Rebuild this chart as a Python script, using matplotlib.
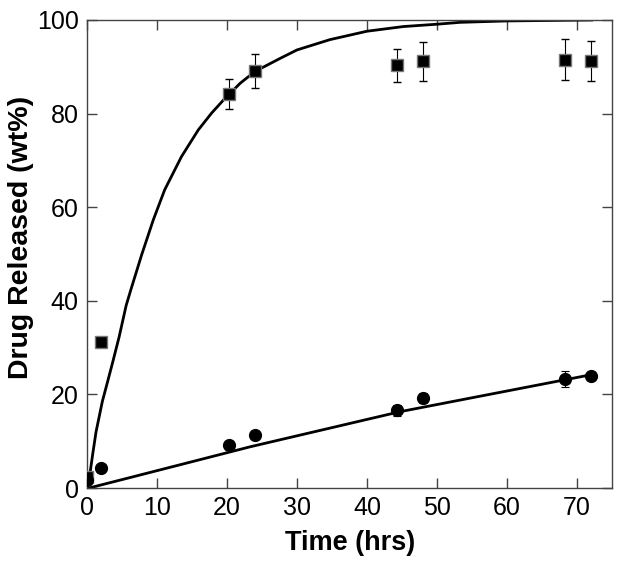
import matplotlib.pyplot as plt

plt.rcParams["font.family"] = ["Liberation Sans", "DejaVu Sans"]

# Measured release points (hrs, wt%)
time = [0, 2, 20.3, 24, 44.3, 48, 68.3, 72]
fast_release = [2.4, 31.3, 84.1, 89.1, 90.3, 91.2, 91.5, 91.3]
fast_err = [0.5, 1.0, 3.2, 3.7, 3.5, 4.2, 4.4, 4.3]
slow_release = [1.7, 4.2, 9.2, 11.3, 16.6, 19.2, 23.3, 24.0]
slow_err = [0.3, 0.4, 0.5, 0.5, 1.2, 1.1, 1.7, 0.6]

# Model fits
fit_fast_t = [0, 0.33, 0.8, 1.3, 2.2, 3.0, 3.7, 4.6, 5.6, 6.3, 7.81, 9.48, 11.1,
              13.5, 15.9, 17.8, 19.5, 21.9, 24, 27.6, 30, 34.7, 40, 45.2, 50,
              53.3, 60, 66, 72.1]
fit_fast_v = [0, 2.0, 7.0, 12.0, 18.5, 23.0, 27.0, 32.3, 39.0, 42.5, 49.8, 57.3,
              63.7, 70.8, 76.5, 80.1, 82.9, 86.5, 89.0, 91.8, 93.6, 95.8, 97.6,
              98.6, 99.1, 99.5, 99.8, 99.9, 100]
fit_slow_t = [0.3, 6.6, 23.3, 44.7, 72]
fit_slow_v = [0, 2.4, 8.8, 16.3, 24.2]

fig = plt.figure(figsize=(6.21, 5.78), dpi=100)
ax = fig.add_axes([0.140, 0.1557, 0.8455, 0.8097])

ax.plot(fit_fast_t, fit_fast_v, color="black", lw=2, zorder=2)
ax.plot(fit_slow_t, fit_slow_v, color="black", lw=2, zorder=2)

ax.errorbar(time, fast_release, yerr=fast_err, fmt="s", color="black",
            mfc="black", mec="#777777", mew=1, ms=8, ecolor="black",
            elinewidth=0.8, capsize=3, capthick=0.8, zorder=3)
ax.errorbar(time, slow_release, yerr=slow_err, fmt="o", color="black",
            mfc="black", mec="black", ms=8.5, ecolor="black",
            elinewidth=0.8, capsize=3, capthick=0.8, zorder=3)

ax.set_xlim(0, 75)
ax.set_ylim(0, 100)
ax.set_xticks(range(0, 71, 10))
ax.set_yticks(range(0, 101, 20))
ax.tick_params(direction="in", length=7, width=1, top=True, right=True,
               labelsize=18, color="#444444", pad=6)
for spine in ax.spines.values():
    spine.set_color("#444444")
    spine.set_linewidth(1)

ax.set_xlabel("Time (hrs)", fontsize=19.5, fontweight="bold")
ax.set_ylabel("Drug Released (wt%)", fontsize=20.5, fontweight="bold")
ax.xaxis.set_label_coords(0.501, -0.118, transform=ax.transAxes)
ax.yaxis.set_label_coords(-0.126, 0.536, transform=ax.transAxes)
ax.xaxis.label.set_va("center")
ax.yaxis.label.set_va("center")

fig.savefig("out.png", dpi=100)
